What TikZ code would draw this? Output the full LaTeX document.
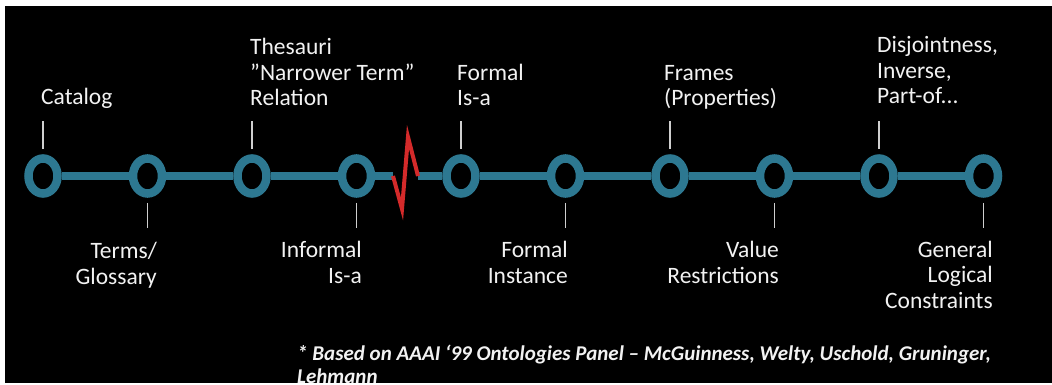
\documentclass[tikz,border=0pt]{standalone}
\usepackage{fontspec}
\setmainfont{Carlito}
\usetikzlibrary{shapes.geometric,positioning}
\definecolor{crail}{HTML}{2D7891}
\definecolor{cbreak}{HTML}{D42A2A}
\definecolor{ctick}{HTML}{CFCFCF}
\definecolor{ctext}{HTML}{F2F2F2}
\tikzset{
  ring/.style={ellipse,draw=crail,line width=8.5pt,fill=black,minimum width=29pt,minimum height=35pt,inner sep=0pt},
  rail/.style={draw=crail,line width=8pt},
  brk/.style={draw=cbreak,line width=4pt,line join=miter},
  tickln/.style={draw=ctick,line width=1.4pt},
  lbl/.style={text=ctext,font=\fontsize{23.5}{25.5}\selectfont,inner sep=0pt},
  toplbl/.style={lbl,align=left,anchor=base west},
  botlbl/.style={lbl,align=right,anchor=base east},
  note/.style={text=ctext,font=\fontsize{21}{23}\selectfont\bfseries\itshape,inner sep=0pt,align=left,anchor=base west},
}

\begin{document}
\begin{tikzpicture}[x=1pt,y=-1pt]
\useasboundingbox (0,0) rectangle (1052,385);

% ================= background =================
\fill[white] (0,0) rectangle (1052,385);
\fill[black] (5,6) rectangle (1052,383);

% ================= timeline =================
\foreach \i in {0,...,9}{
  \node[ring] (c\i) at ({43+104.5*\i},176) {};
}
\coordinate (brkA) at (393,176);
\coordinate (brkB) at (418,176);
\foreach \a/\b in {0/1,1/2,2/3,4/5,5/6,6/7,7/8,8/9}{
  \draw[rail] (c\a) -- (c\b);
}
\draw[rail] (c3) -- (brkA);
\draw[rail] (brkB) -- (c4);
\draw[brk] (brkA) -- (402,209) -- (408,137) -- (brkB);

% ticks
\foreach \i in {0,2,4,6,8}{
  \draw[tickln] ([yshift=5pt]c\i.north) -- ++(0,-28);
}
\foreach \i in {1,3,5,7,9}{
  \draw[tickln] ([yshift=-5pt]c\i.south) -- ++(0,25);
}

% ================= labels above (anchored on last line) =================
\node[toplbl] (cat)  at (41,105)  {Catalog};
\node[toplbl] (thes) at (250,106) {Thesauri\\”Narrower Term”\\Relation};
\node[toplbl] (fisa) at (457,106) {Formal\\Is-a};
\node[toplbl] (frm)  at (664,106) {Frames\\(Properties)};
\node[toplbl] (disj) at (877,104) {Disjointness,\\Inverse,\\Part-of...};

% ================= labels below =================
\node[botlbl] (terms) at (157,284) {Terms/\\Glossary};
\node[botlbl] (iisa)  at (362,283) {Informal\\Is-a};
\node[botlbl] (finst) at (568,283) {Formal\\Instance};
\node[botlbl] (valr)  at (779,283) {Value\\Restrictions};
\node[botlbl] (glc)   at (993,308) {General\\Logical\\Constraints};

% ================= source =================
\node[note] (src) at (297,383)
  {* Based on AAAI ‘99 Ontologies Panel – McGuinness, Welty, Uschold, Gruninger,\\Lehmann};
\fill[white] (0,383) rectangle (1052,385);
\end{tikzpicture}
\end{document}
